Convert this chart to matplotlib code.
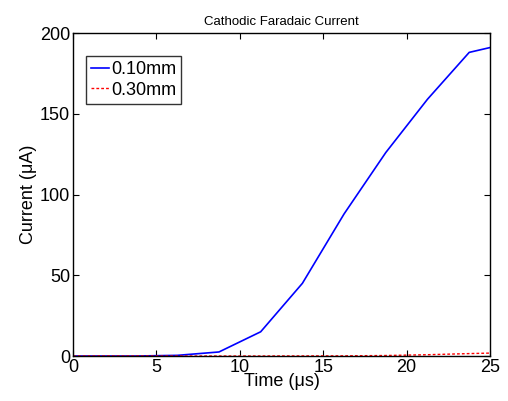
import matplotlib
matplotlib.use("Agg")
import matplotlib.pyplot as plt

plt.rcParams["font.family"] = ["Liberation Sans", "DejaVu Sans"]

# -----------------------------
# DATA
# -----------------------------
time_us = [0, 1.25, 3.75, 6.25, 8.75, 11.25, 13.75, 16.25, 18.75, 21.25, 23.75, 25]
current_010 = [0, 0, 0, 0.4, 2.5, 15, 45, 88, 126, 159, 188, 191]
current_030 = [0, 0, 0, 0, 0, 0, 0.05, 0.1, 0.3, 0.8, 1.5, 1.8]

# -----------------------------
# PLOT
# -----------------------------
fig = plt.figure(figsize=(5.08, 4.01), dpi=100)
ax = fig.add_axes([0.1437, 0.1122, 0.821, 0.8055])

ax.plot(time_us, current_010, color="#0000ff", lw=1.2, label="0.10mm")
ax.plot(time_us, current_030, color="#ff0000", lw=1.0, ls=(0, (2, 1.5)), label="0.30mm")

ax.set_xlim(0, 25)
ax.set_ylim(0, 200)
ax.set_xticks([0, 5, 10, 15, 20, 25])
ax.set_yticks([0, 50, 100, 150, 200])
ax.tick_params(direction="in", top=True, right=True, labelsize=13, length=4, pad=2)
for s in ax.spines.values():
    s.set_linewidth(1.0)

ax.set_xlabel("Time (μs)", fontsize=13, labelpad=-2)
ax.set_ylabel("Current (μA)", fontsize=13, labelpad=2)
ax.set_title("Cathodic Faradaic Current", fontsize=9.5, pad=6)

leg = ax.legend(loc="upper left", bbox_to_anchor=(0.03, 0.93), fontsize=13,
                frameon=True, fancybox=False, handlelength=1.0, handletextpad=0.1,
                borderpad=0.3, labelspacing=0.2, borderaxespad=0)
leg.get_frame().set_edgecolor("black")
leg.get_frame().set_linewidth(1.0)

fig.savefig("out.png", dpi=100)
